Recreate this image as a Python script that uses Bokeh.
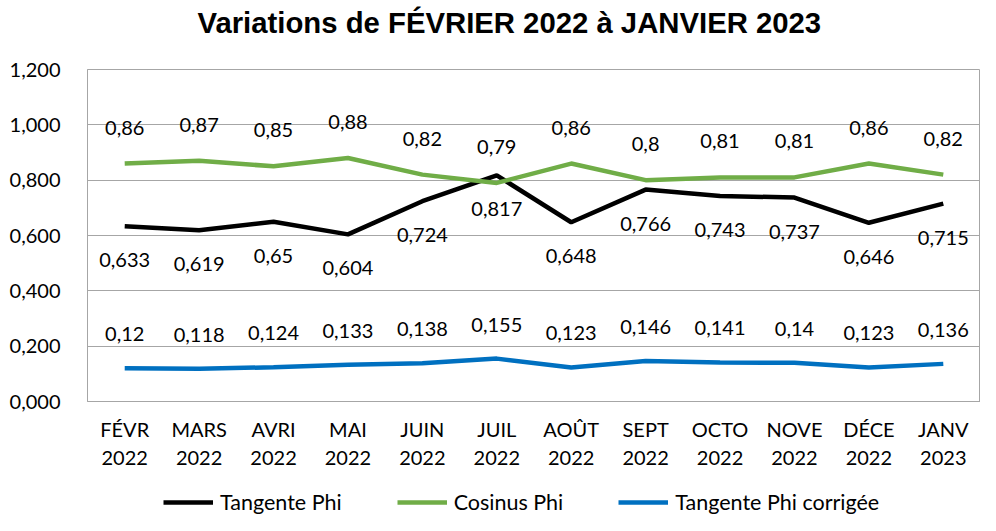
from bokeh.plotting import figure
from bokeh.layouts import column
from bokeh.models import (ColumnDataSource, LabelSet, Label, Legend, LegendItem, FixedTicker,
                          CustomJSTickFormatter, Range1d)
from bokeh.core.properties import value
from bokeh.embed import file_html
from bokeh.resources import INLINE

title_text = "Variations de FÉVRIER 2022 à JANVIER 2023"
months = ["FÉVR", "MARS", "AVRI", "MAI", "JUIN", "JUIL", "AOÛT", "SEPT", "OCTO", "NOVE", "DÉCE", "JANV"]
years = ["2022"] * 11 + ["2023"]
tangente = [0.633, 0.619, 0.65, 0.604, 0.724, 0.817, 0.648, 0.766, 0.743, 0.737, 0.646, 0.715]
cosinus = [0.86, 0.87, 0.85, 0.88, 0.82, 0.79, 0.86, 0.8, 0.81, 0.81, 0.86, 0.82]
corrigee = [0.12, 0.118, 0.124, 0.133, 0.138, 0.155, 0.123, 0.146, 0.141, 0.14, 0.123, 0.136]
series_names = ["Tangente Phi", "Cosinus Phi", "Tangente Phi corrigée"]
series_colors = ["#000000", "#70AD47", "#0070C0"]
y_ticks = [0.0, 0.2, 0.4, 0.6, 0.8, 1.0, 1.2]

FONT = "Lato"
FS = "20px"
W = 980
LEFT = 87

def fmt(v):
    return ("%g" % v).replace(".", ",")

def strip(h):
    f = figure(width=W, height=h, output_backend="svg", toolbar_location=None,
               x_range=Range1d(0, 1), y_range=Range1d(0, 1),
               min_border_left=LEFT, min_border_right=0, min_border_top=0, min_border_bottom=0)
    f.axis.visible = False
    f.grid.grid_line_color = None
    f.outline_line_color = None
    return f

# title strip
tt = strip(55)
tt.add_layout(Label(x=110, y=33, x_units="screen", y_units="screen", text=title_text,
                    text_font="Liberation Sans", text_font_size="29.3px", text_font_style="bold",
                    text_color="black", text_align="left", text_baseline="middle"))

x = list(range(len(months)))

p = figure(width=W, height=434, output_backend="svg", toolbar_location=None,
           x_range=Range1d(-0.5, len(months) - 0.5), y_range=Range1d(0, 1.2),
           min_border_left=LEFT, min_border_right=0, min_border_top=14, min_border_bottom=88)

p.outline_line_color = "#A6A6A6"
p.background_fill_color = "white"
p.border_fill_color = "white"

p.xgrid.grid_line_color = None
p.ygrid.grid_line_color = "#A6A6A6"
p.ygrid.grid_line_width = 1
p.ygrid.ticker = FixedTicker(ticks=y_ticks)

p.yaxis.ticker = FixedTicker(ticks=y_ticks)
p.yaxis.formatter = CustomJSTickFormatter(code="return tick.toFixed(3).replace('.', ',');")
p.yaxis.axis_line_color = "#A6A6A6"
p.yaxis.major_tick_line_color = None
p.yaxis.minor_tick_line_color = None
p.yaxis.major_label_standoff = 21
p.yaxis.major_label_text_font = FONT
p.yaxis.major_label_text_font_size = FS
p.yaxis.major_label_text_color = "black"

p.xaxis.ticker = FixedTicker(ticks=x)
p.xaxis.major_label_overrides = {i: f"{m}\n{y}" for i, (m, y) in enumerate(zip(months, years))}
p.xaxis.axis_line_color = "#A6A6A6"
p.xaxis.major_tick_line_color = None
p.xaxis.minor_tick_line_color = None
p.xaxis.major_label_standoff = 9
p.xaxis.major_label_text_font = FONT
p.xaxis.major_label_text_font_size = FS
p.xaxis.major_label_text_color = "black"

offsets = [-34, 36, 34]
for vals, color, off in zip([tangente, cosinus, corrigee], series_colors, offsets):
    src = ColumnDataSource(dict(x=x, y=vals, t=[fmt(v) for v in vals]))
    p.line("x", "y", source=src, line_color=color, line_width=4.5)
    p.add_layout(LabelSet(x="x", y="y", text="t", source=src, y_offset=off,
                          text_align="center", text_baseline="middle",
                          text_font=value(FONT), text_font_size=value(FS), text_color="black"))

# legend strip (swatches drawn off-range, only shown in the legend)
lg = strip(26)
items = []
for name, color in zip(series_names, series_colors):
    r = lg.line(x=[5, 6], y=[5, 5], line_color=color, line_width=4.5)
    items.append(LegendItem(label=name, renderers=[r]))
legend = Legend(items=items, orientation="horizontal", location=(76, 0),
                glyph_width=50, glyph_height=20, label_standoff=7, spacing=55,
                label_text_font=FONT, label_text_font_size="21.5px", label_text_color="black",
                border_line_color=None, background_fill_alpha=0, padding=2, margin=0)
lg.add_layout(legend, "center")

open("out.html", "w").write(file_html(column(tt, p, lg, spacing=0), INLINE))
